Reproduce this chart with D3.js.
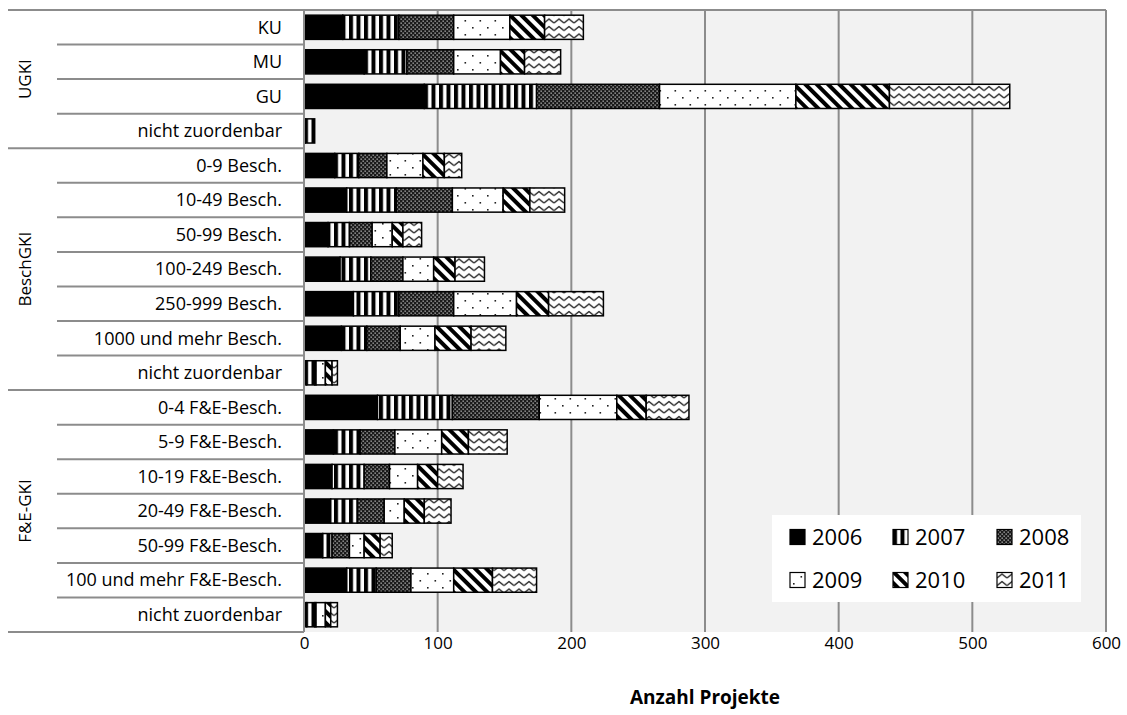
<!DOCTYPE html>
<html>
<head>
<meta charset="utf-8">
<script src="https://cdn.jsdelivr.net/npm/d3@7"></script>
<style>
  body { margin: 0; background: #fff; }
  text { font-family: "Open Sans", Lato, sans-serif; fill: #000; }
</style>
</head>
<body>
<div id="chart"></div>
<script>
// categories, top to bottom
var categories = ["KU", "MU", "GU", "nicht zuordenbar",
  "0-9 Besch.", "10-49 Besch.", "50-99 Besch.", "100-249 Besch.", "250-999 Besch.", "1000 und mehr Besch.", "nicht zuordenbar",
  "0-4 F&E-Besch.", "5-9 F&E-Besch.", "10-19 F&E-Besch.", "20-49 F&E-Besch.", "50-99 F&E-Besch.", "100 und mehr F&E-Besch.", "nicht zuordenbar"];
var groupNames = ["UGKI", "BeschGKI", "F&E-GKI"];
var groupSizes = [4, 7, 7];
var years = ["2006", "2007", "2008", "2009", "2010", "2011"];

// Projekte per year
var v2006 = [29, 45, 90, 1, 23, 32, 18, 27, 37, 28, 2, 55, 22, 21, 20, 14, 32, 2];
var v2007 = [42, 32, 84, 7, 18, 37, 16, 23, 34, 19, 6, 56, 20, 24, 20, 7, 22, 6];
var v2008 = [41, 35, 92, 0, 21, 42, 17, 24, 41, 25, 1, 65, 26, 19, 20, 13, 26, 1];
var v2009 = [42, 35, 102, 0, 27, 38, 15, 23, 47, 26, 7, 58, 35, 21, 15, 11, 32, 7];
var v2010 = [26, 18, 70, 0, 16, 20, 8, 16, 24, 27, 5, 22, 20, 15, 15, 12, 29, 4];
var v2011 = [29, 27, 90, 0, 13, 26, 14, 22, 41, 26, 4, 32, 29, 19, 20, 9, 33, 5];
var xTicks = [0, 100, 200, 300, 400, 500, 600];

var W = 1127, H = 715;
var margin = {top: 10, right: 21, bottom: 83, left: 304};
var width = W - margin.left - margin.right,
    height = H - margin.top - margin.bottom;

var series = [v2006, v2007, v2008, v2009, v2010, v2011];
var rows = categories.map(function(c, i) {
  var r = {idx: i};
  years.forEach(function(y, k) { r[y] = series[k][i]; });
  return r;
});
var stacked = d3.stack().keys(years)(rows);

var svg = d3.select("#chart").append("svg")
  .attr("width", W).attr("height", H);

// patterns
var defs = svg.append("defs");
function pat(id, w, h, rot) {
  var p = defs.append("pattern").attr("id", id)
    .attr("patternUnits", "userSpaceOnUse").attr("width", w).attr("height", h);
  if (rot) p.attr("patternTransform", "rotate(" + rot + ")");
  return p;
}
var p7 = pat("p2007", 7.5, 8);
p7.append("rect").attr("width", 7.5).attr("height", 8).attr("fill", "#fff");
p7.append("rect").attr("width", 4).attr("height", 8).attr("fill", "#000");

var p8 = pat("p2008", 4, 4);
p8.append("rect").attr("width", 4).attr("height", 4).attr("fill", "#1a1a1a");
p8.append("rect").attr("x", 0.5).attr("y", 0.5).attr("width", 1.3).attr("height", 1.3).attr("fill", "#bbb");
p8.append("rect").attr("x", 2.5).attr("y", 2.5).attr("width", 1.3).attr("height", 1.3).attr("fill", "#bbb");

var p9 = pat("p2009", 15, 14);
p9.append("rect").attr("width", 15).attr("height", 14).attr("fill", "#fff");
p9.append("rect").attr("x", 3).attr("y", 3).attr("width", 1.6).attr("height", 1.6).attr("fill", "#222");
p9.append("rect").attr("x", 10.5).attr("y", 10).attr("width", 1.6).attr("height", 1.6).attr("fill", "#222");

var p10 = pat("p2010", 8, 8, 45);
p10.append("rect").attr("width", 8).attr("height", 8).attr("fill", "#fff");
p10.append("rect").attr("width", 8).attr("height", 4).attr("fill", "#000");

var p11 = pat("p2011", 10, 7.5);
p11.append("rect").attr("width", 10).attr("height", 7.5).attr("fill", "#fff");
p11.append("path").attr("d", "M0,5.5 L5,1.5 L10,5.5")
  .attr("fill", "none").attr("stroke", "#222").attr("stroke-width", 1.3);

var fills = {"2006": "#000", "2007": "url(#p2007)", "2008": "url(#p2008)",
  "2009": "url(#p2009)", "2010": "url(#p2010)", "2011": "url(#p2011)"};

var x = d3.scaleLinear().domain([0, 600]).range([0, width]);
var y = d3.scaleBand().domain(d3.range(categories.length)).range([0, height]).paddingInner(0.3).paddingOuter(0.15);
var step = y.step();

var g = svg.append("g").attr("transform", "translate(" + margin.left + "," + margin.top + ")");

// plot background + grid
g.append("rect").attr("width", width).attr("height", height).attr("fill", "#f2f2f2");
g.append("g").selectAll("line").data(xTicks.slice(1)).join("line")
  .attr("x1", d => x(d)).attr("x2", d => x(d))
  .attr("y1", 0).attr("y2", height)
  .attr("stroke", "#8c8c8c").attr("stroke-width", 2);

// bars
g.append("g").selectAll("g").data(stacked).join("g")
  .attr("fill", d => fills[d.key])
  .selectAll("rect").data(d => d).join("rect")
  .attr("x", d => x(d[0]))
  .attr("y", d => y(d.data.idx))
  .attr("width", d => x(d[1]) - x(d[0]))
  .attr("height", y.bandwidth())
  .attr("stroke", d => (d[1] - d[0]) > 0 ? "#000" : "none")
  .attr("stroke-width", 1.5);

// value axis labels (labels low, line at top)
var xAxis = g.append("g").attr("transform", "translate(0," + height + ")")
  .call(d3.axisBottom(x).tickValues(xTicks).tickSize(0).tickPadding(5));
xAxis.select(".domain").remove();
xAxis.selectAll("text").attr("font-size", 17).attr("font-family", "'Open Sans', sans-serif");
g.append("line").attr("x1", -margin.left + 8).attr("x2", width)
  .attr("y1", 0).attr("y2", 0).attr("stroke", "#8c8c8c").attr("stroke-width", 2);

// category axis line
g.append("line").attr("x1", 0).attr("x2", 0).attr("y1", 0).attr("y2", height)
  .attr("stroke", "#8c8c8c").attr("stroke-width", 2);

// category labels and separators
var lab = svg.append("g").attr("transform", "translate(0," + margin.top + ")");
lab.selectAll("text.cat").data(categories).join("text")
  .attr("class", "cat")
  .attr("x", 282).attr("y", (d, i) => i * step + step / 2)
  .attr("dy", "0.35em").attr("text-anchor", "end").attr("font-size", 18)
  .text(d => d);

var groupStart = [];
var acc = 0;
groupSizes.forEach(function(s) { groupStart.push(acc); acc += s; });
var seps = d3.range(1, categories.length);
lab.selectAll("line.sep").data(seps).join("line")
  .attr("class", "sep")
  .attr("x1", d => groupStart.indexOf(d) >= 0 ? 8 : 57).attr("x2", margin.left)
  .attr("y1", d => d * step).attr("y2", d => d * step)
  .attr("stroke", "#8c8c8c").attr("stroke-width", 2);
lab.append("line").attr("x1", 8).attr("x2", margin.left)
  .attr("y1", height).attr("y2", height).attr("stroke", "#8c8c8c").attr("stroke-width", 2);

lab.selectAll("text.grp").data(groupNames).join("text")
  .attr("class", "grp")
  .attr("transform", (d, i) => "translate(25," + ((groupStart[i] + groupSizes[i] / 2) * step) + ") rotate(-90)")
  .attr("dy", "0.35em").attr("text-anchor", "middle").attr("font-size", 17)
  .text(d => d);

// axis title
svg.append("text").attr("x", margin.left + width / 2).attr("y", 697)
  .attr("dy", "0.35em").attr("text-anchor", "middle")
  .attr("font-size", 19).attr("font-weight", "bold").text("Anzahl Projekte");

// legend
var leg = svg.append("g").attr("transform", "translate(772,515)");
leg.append("rect").attr("width", 309).attr("height", 87).attr("fill", "#fff");
var li = leg.selectAll("g").data(years).join("g")
  .attr("transform", (d, i) => "translate(" + [18, 121, 225][i % 3] + "," + (i < 3 ? 22 : 65) + ")");
li.append("rect").attr("x", 0).attr("y", -7.5).attr("width", 15).attr("height", 15)
  .attr("fill", d => fills[d]).attr("stroke", "#000").attr("stroke-width", 1.2);
li.append("text").attr("x", 22).attr("dy", "0.35em").attr("font-size", 22).text(d => d);
</script>
</body>
</html>
